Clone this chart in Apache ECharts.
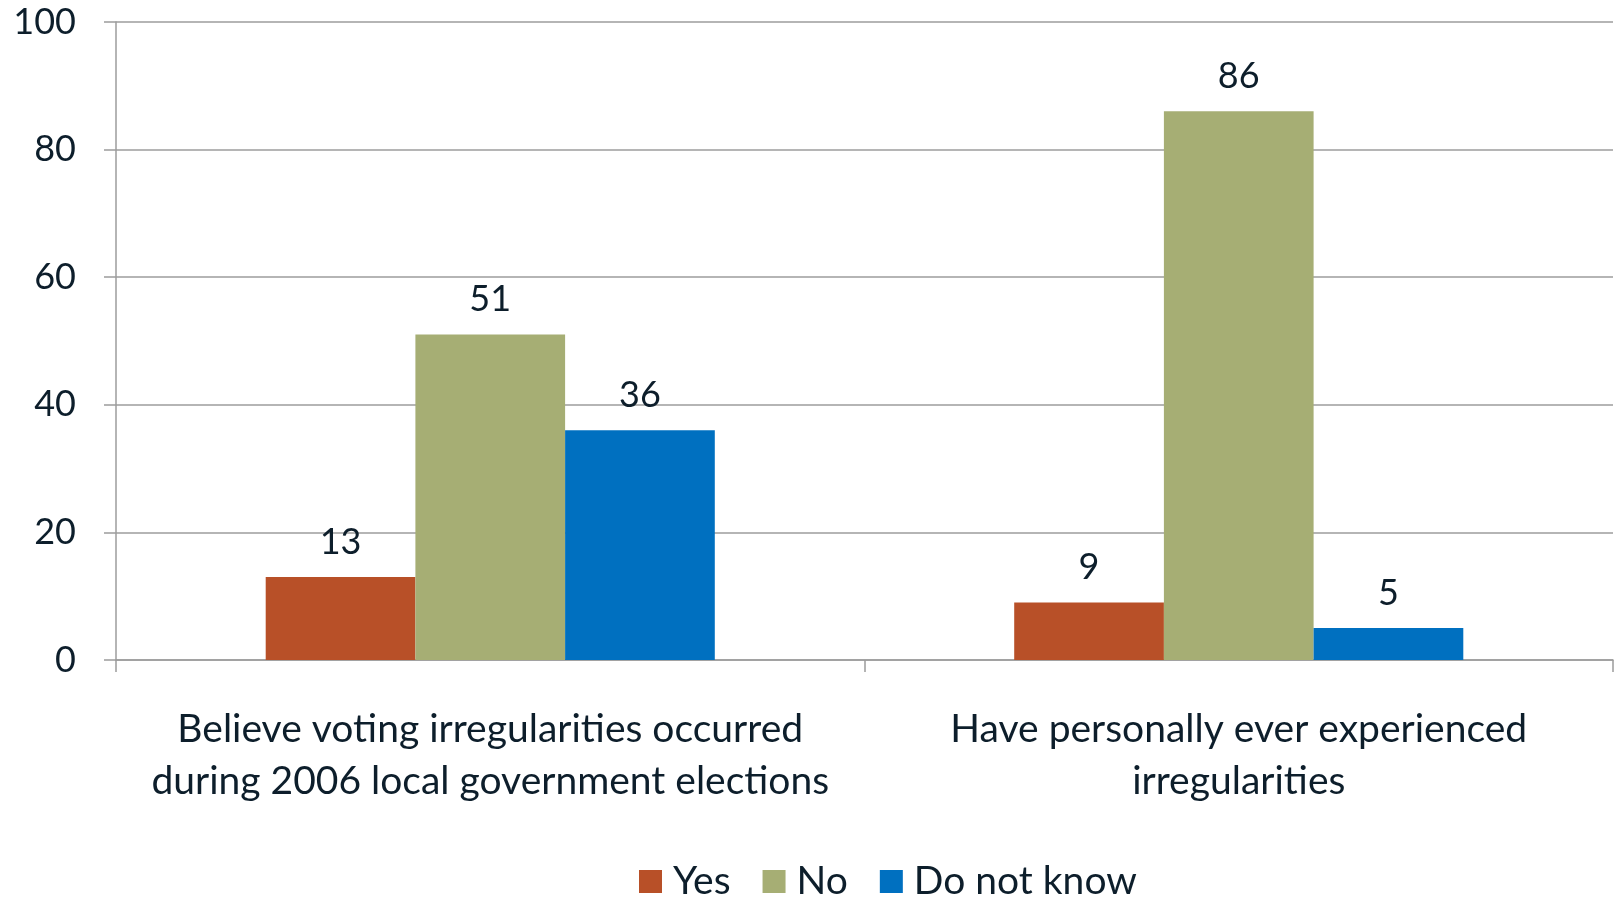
<!DOCTYPE html>
<html>
<head>
<meta charset="utf-8">
<script src="https://cdn.jsdelivr.net/npm/echarts@6/dist/echarts.min.js"></script>
<style>
html,body{margin:0;padding:0;background:#fff;}
#chart{width:1618px;height:897px;}
</style>
</head>
<body>
<div id="chart"></div>
<script>
// Survey questions and response shares (%)
const categories = [
  'Believe voting irregularities occurred\nduring 2006 local government elections',
  'Have personally ever experienced\nirregularities'
];
const seriesNames = ['Yes', 'No', 'Do not know'];
const yesValues = [13, 9];
const noValues = [51, 86];
const dontKnowValues = [36, 5];
const yTicks = { min: 0, max: 100, interval: 20 };

const colors = ['#B85028', '#A6AE74', '#0070C0'];
const textColor = '#0D1E2B';
const lineColor = '#9C9C9C';
const font = 'Lato, "Open Sans", sans-serif';

const chart = echarts.init(document.getElementById('chart'), null, { renderer: 'canvas' });

function barSeries(name, data, color) {
  return {
    name: name,
    type: 'bar',
    data: data,
    barGap: '0%',
    barCategoryGap: '40%',
    itemStyle: { color: color },
    label: {
      show: true,
      position: 'top',
      distance: 17,
      color: textColor,
      fontFamily: font,
      fontSize: 36
    }
  };
}

chart.setOption({
  animation: false,
  backgroundColor: '#ffffff',
  color: colors,
  grid: { left: 116, right: 5, top: 22, bottom: 237, containLabel: false },
  legend: {
    top: 857,
    left: 634,
    itemWidth: 23,
    itemHeight: 23,
    itemGap: 32,
    icon: 'rect',
    textStyle: { color: textColor, fontFamily: font, fontSize: 39, padding: [0, 0, 0, 6] },
    data: seriesNames
  },
  xAxis: {
    type: 'category',
    data: categories,
    axisLine: { show: true, lineStyle: { color: lineColor, width: 1.5 } },
    axisTick: { show: true, length: 12, lineStyle: { color: lineColor, width: 1.5 } },
    axisLabel: {
      color: textColor,
      fontFamily: font,
      fontSize: 39,
      lineHeight: 52,
      margin: 43,
      interval: 0
    }
  },
  yAxis: {
    type: 'value',
    min: yTicks.min,
    max: yTicks.max,
    interval: yTicks.interval,
    axisLine: { show: true, lineStyle: { color: lineColor, width: 1.5 } },
    axisTick: { show: true, length: 12, lineStyle: { color: lineColor, width: 1.5 } },
    splitLine: { show: true, lineStyle: { color: lineColor, width: 1.5 } },
    axisLabel: {
      color: textColor,
      fontFamily: font,
      fontSize: 36,
      margin: 40
    }
  },
  series: [
    barSeries(seriesNames[0], yesValues, colors[0]),
    barSeries(seriesNames[1], noValues, colors[1]),
    barSeries(seriesNames[2], dontKnowValues, colors[2])
  ]
});
</script>
</body>
</html>
